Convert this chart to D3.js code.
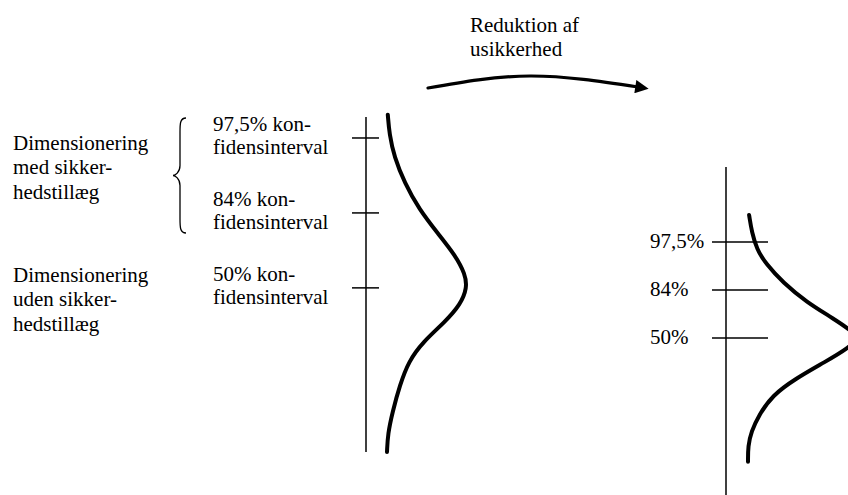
<!DOCTYPE html>
<html>
<head>
<meta charset="utf-8">
<script src="https://cdn.jsdelivr.net/npm/d3@7"></script>
<style>
  html, body { margin: 0; padding: 0; background: #fff; }
  svg { display: block; font-family: "Liberation Serif", "Times New Roman", serif; }
  svg text, svg tspan { font-family: "Liberation Serif", "Times New Roman", serif; font-size: 21px; fill: #000; }
</style>
</head>
<body>
<svg id="chart" width="848" height="495"></svg>
<script>
// ---- Data ----
// Confidence levels, expressed in standard deviations above the mean
const levelSigma = [2, 1, 0];
const levelNames = ["97,5%", "84%", "50%"];
const levelLabelsLeft = [
  ["97,5% kon-", "fidensinterval"],
  ["84% kon-", "fidensinterval"],
  ["50% kon-", "fidensinterval"]
];
const groupLabels = [
  ["Dimensionering", "med sikker-", "hedstillæg"],
  ["Dimensionering", "uden sikker-", "hedstillæg"]
];
const arrowLabel = ["Reduktion af", "usikkerhed"];

// Distribution before reduction: [value in sigma units, relative density]
const curveBefore = [
  [2.31, 0.01], [2.05, 0.03], [1.75, 0.09], [1.40, 0.22], [1.05, 0.40],
  [0.72, 0.64], [0.44, 0.85], [0.18, 0.98], [0.00, 1.00], [-0.22, 0.92],
  [-0.46, 0.72], [-0.72, 0.45], [-0.98, 0.27], [-1.30, 0.16], [-1.65, 0.07],
  [-1.95, 0.01], [-2.19, 0.00]
];
// Distribution after reduction
const curveAfter = [
  [2.56, 0.01], [2.20, 0.035], [1.85, 0.08], [1.55, 0.16], [1.15, 0.32],
  [0.75, 0.53], [0.40, 0.78], [0.15, 0.94], [0.00, 1.00], [-0.20, 0.92],
  [-0.50, 0.70], [-0.85, 0.43], [-1.20, 0.22], [-1.60, 0.10], [-1.95, 0.03],
  [-2.25, 0.00], [-2.58, 0.00]
];

// ---- Drawing ----
const svg = d3.select("#chart");
const FONT = '"Liberation Serif", "Times New Roman", serif';

// Scales, left panel
const yL = d3.scaleLinear().domain([-2.19, 2.28]).range([452, 117]);
const xL = d3.scaleLinear().domain([0, 1]).range([387, 467]);
const axisXL = 366;
// Scales, right panel
const yR = d3.scaleLinear().domain([-3.27, 3.56]).range([495, 167]);
const xR = d3.scaleLinear().domain([0, 1]).range([748, 858]);
const axisXR = 726;

// Left axis
svg.append("line")
  .attr("x1", axisXL).attr("x2", axisXL)
  .attr("y1", yL.range()[1]).attr("y2", yL.range()[0])
  .attr("stroke", "#000").attr("stroke-width", 1.5);
svg.append("g").selectAll("line").data(levelSigma).join("line")
  .attr("x1", axisXL - 14).attr("x2", axisXL + 13)
  .attr("y1", d => yL(d)).attr("y2", d => yL(d))
  .attr("stroke", "#000").attr("stroke-width", 1.5);

// Right axis
svg.append("line")
  .attr("x1", axisXR).attr("x2", axisXR)
  .attr("y1", yR.range()[1]).attr("y2", yR.range()[0])
  .attr("stroke", "#000").attr("stroke-width", 1.5);
svg.append("g").selectAll("line").data(levelSigma).join("line")
  .attr("x1", axisXR - 14).attr("x2", axisXR + 42)
  .attr("y1", d => yR(d)).attr("y2", d => yR(d))
  .attr("stroke", "#000").attr("stroke-width", 1.5);

// Curves
const lineL = d3.line().x(d => xL(d[1])).y(d => yL(d[0])).curve(d3.curveBasis);
const lineR = d3.line().x(d => xR(d[1])).y(d => yR(d[0])).curve(d3.curveBasis);
svg.append("path").attr("d", lineL(curveBefore))
  .attr("fill", "none").attr("stroke", "#000").attr("stroke-width", 4)
  .attr("stroke-linecap", "round").attr("stroke-linejoin", "round");
svg.append("path").attr("d", lineR(curveAfter))
  .attr("fill", "none").attr("stroke", "#000").attr("stroke-width", 4)
  .attr("stroke-linecap", "round").attr("stroke-linejoin", "round");

function multiline(x, y, lines, step) {
  const t = svg.append("text").attr("x", x).attr("y", y)
    .attr("font-family", FONT).attr("font-size", 21);
  lines.forEach((ln, j) => {
    t.append("tspan").attr("x", x).attr("dy", j === 0 ? 0 : step)
      .attr("font-family", FONT).text(ln);
  });
  return t;
}

const lh = 23.5;
// Level labels on left panel (two lines each)
levelSigma.forEach((s, i) => multiline(213, yL(s) - 7, levelLabelsLeft[i], lh));

// Level labels on right panel
svg.append("g").selectAll("text").data(levelSigma).join("text")
  .attr("font-family", FONT).attr("font-size", 21)
  .attr("x", 650).attr("y", d => yR(d) + 6)
  .text((d, i) => levelNames[i]);

// Group labels
const groupY = [150, 282];
groupLabels.forEach((g, i) => multiline(13, groupY[i], g, lh + 0.8));

// Curly brace spanning the 97,5% and 84% labels
(function () {
  const xr = 186, xt = 173, y0 = 118, y1 = 233, ym = (y0 + y1) / 2, xm = 180;
  const p = `M${xr},${y0} C${xm},${y0} ${xm},${y0 + 6} ${xm},${y0 + 14}
    L${xm},${ym - 10} C${xm},${ym - 3} ${xt + 2},${ym} ${xt},${ym}
    C${xt + 2},${ym} ${xm},${ym + 3} ${xm},${ym + 10}
    L${xm},${y1 - 14} C${xm},${y1 - 6} ${xm},${y1} ${xr},${y1}`;
  svg.append("path").attr("d", p).attr("fill", "none")
    .attr("stroke", "#000").attr("stroke-width", 1.3);
})();

// Arrow label
multiline(470, 32, arrowLabel, lh);

// Curved arrow
svg.append("defs").append("marker")
  .attr("id", "head").attr("viewBox", "0 0 10 10")
  .attr("refX", 2).attr("refY", 5)
  .attr("markerWidth", 5).attr("markerHeight", 4.2)
  .attr("markerUnits", "strokeWidth")
  .attr("orient", "auto")
  .append("path").attr("d", "M0,0 L10,5 L0,10 Z").attr("fill", "#000");
const arrowPts = [[428, 88], [530, 76], [638, 87]];
svg.append("path")
  .attr("d", d3.line().curve(d3.curveNatural)(arrowPts))
  .attr("fill", "none").attr("stroke", "#000").attr("stroke-width", 3.2)
  .attr("stroke-linecap", "round")
  .attr("marker-end", "url(#head)");
</script>
</body>
</html>
